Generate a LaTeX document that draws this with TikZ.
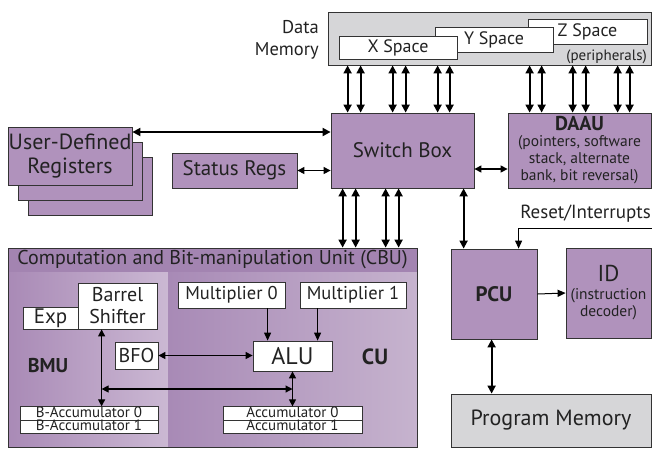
\documentclass[tikz,border=0pt]{standalone}
\usepackage{fontspec}
\setmainfont{PT Sans}
\usetikzlibrary{arrows.meta,positioning}
\definecolor{purp}{HTML}{B092BC}
\definecolor{titlebar}{HTML}{A384B1}
\definecolor{bmuL}{HTML}{A98AB6}
\definecolor{bmuR}{HTML}{CBB8D3}
\definecolor{cuL}{HTML}{A88AB6}
\definecolor{cuR}{HTML}{C6B3CE}
\definecolor{memgray}{HTML}{D6D6D8}
\definecolor{edge}{HTML}{333333}
\definecolor{txt}{HTML}{222222}
\newcommand{\fs}[2]{\fontsize{#1}{#2}\selectfont}

\begin{document}
\begin{tikzpicture}[x=1pt,y=-1pt,
    every node/.style={inner sep=0pt,text=txt},
    pbox/.style={draw=edge,line width=0.8pt,fill=purp},
    wbox/.style={draw=edge,line width=0.8pt,fill=white},
    gbox/.style={draw=edge,line width=0.8pt,fill=memgray},
    accbox/.style={wbox,minimum height=13.5,text height=9.5,text depth=2,font=\fs{15}{15}},
    bus/.style={line width=1.8pt,{Triangle[length=8pt,width=8pt]}-{Triangle[length=8pt,width=8pt]}},
    link/.style={line width=1.2pt,{Triangle[length=7pt,width=7pt]}-{Triangle[length=7pt,width=7pt]}},
    sig/.style={line width=1pt,-{Triangle[length=8pt,width=7pt]}}]
    \useasboundingbox (0,0) rectangle (652,451);

    % data memory
    \node[gbox,minimum width=323,minimum height=53] (dmem) at (489.5,38.5) {};
    \node[align=right,anchor=east,font=\fs{18.5}{22}] (dmlbl) at (319,40) {Data\\Memory};
    \node[wbox,minimum width=119,minimum height=25,font=\fs{18}{18}] (zsp) at (587.5,31.5) {Z Space};
    \node[wbox,minimum width=118,minimum height=25,font=\fs{18}{18}] (ysp) at (494,39.5) {Y Space};
    \node[wbox,minimum width=118,minimum height=23,font=\fs{18}{18}] (xsp) at (398,47.5) {X Space};
    \node[anchor=east,font=\fs{15}{15}] (peri) at (647,57) {(peripherals)};

    % top row
    \node[pbox,minimum width=143,minimum height=75,align=center,font=\fs{21}{21}] (sw) at (402.5,150.5) {Switch Box};
    \node[pbox,minimum width=143,minimum height=75,align=center,font=\fs{15.5}{17}] (daau) at (579.5,150.5)
        {{\fs{20}{20}\bfseries DAAU}\\[-1pt](pointers, software\\stack, alternate\\bank, bit reversal)};
    \node[pbox,minimum width=124,minimum height=58] (udr3) at (90,186.5) {};
    \node[pbox,minimum width=124,minimum height=58] (udr2) at (80,171.5) {};
    \node[pbox,minimum width=124,minimum height=58,align=center,font=\fs{22}{24}] (udr) at (70,156) {User-Defined\\Registers};
    \node[pbox,minimum width=125,minimum height=35,font=\fs{21}{21}] (stat) at (234.5,170.5) {Status Regs};

    \foreach \dx [count=\i] in {17,30,62,75,107,119} {
        \coordinate (s\i) at ([xshift=\dx]sw.north west);
        \draw[bus] (s\i) -- (s\i |- dmem.south);
    }
    \foreach \dx [count=\i] in {22,34,65,78,110,122} {
        \coordinate (d\i) at ([xshift=\dx]daau.north west);
        \draw[bus] (d\i) -- (d\i |- dmem.south);
    }
    \draw[bus] (udr.east |- 0,132) -- (sw.west |- 0,132);
    \draw[link] (stat.east) -- (stat.east -| sw.west);
    \draw[link] (sw.east |- 0,169) -- (daau.west |- 0,169);

    % program control
    \node[pbox,minimum width=86,minimum height=90,font=\fs{21}{21}\bfseries] (pcu) at (494,294) {PCU};
    \node[pbox,minimum width=85,minimum height=90,align=center,font=\fs{15.5}{17}] (id) at (608.5,293)
        {{\fs{23}{23}ID}\\[1pt](instruction\\decoder)};
    \node[gbox,minimum width=200,minimum height=53,font=\fs{22}{22}] (pmem) at (551,420.5) {Program Memory};
    \node[anchor=south east,font=\fs{19}{19}] (rst) at (651,222) {Reset/Interrupts};
    \coordinate (rstin) at (652,228);
    \coordinate (p1) at ([xshift=13]pcu.north west);
    \coordinate (p2) at ([xshift=68]pcu.north west);
    \coordinate (p3) at ([xshift=41]pcu.south west);
    \draw[bus] (p1) -- (p1 |- sw.south);
    \draw[sig] (rstin) -| (p2);
    \draw[sig] (pcu.east) -- (id.west);
    \draw[bus] (p3) -- (p3 |- pmem.north);

    % CBU
    \fill[titlebar] (8,248) rectangle (417,272);
    \shade[left color=bmuL,right color=bmuR] (8,272) rectangle (168,447);
    \shade[left color=cuL,right color=cuR] (168,272) rectangle (417,447);
    \node[draw=edge,line width=0.8pt,minimum width=409,minimum height=199] (cbu) at (212.5,347.5) {};
    \node[font=\fs{20}{20}] (cbutitle) at (212.5,260) {Computation and Bit-manipulation Unit (CBU)};
    \foreach \dx [count=\i] in {12,25,55,68} {
        \coordinate (c\i) at ([xshift=\dx]sw.south west);
        \draw[bus] (c\i) -- (c\i |- cbu.north);
    }

    \node[wbox,minimum width=55,minimum height=22,text height=14,text depth=4,font=\fs{21}{21}] (exp) at (50.5,318) {Exp};
    \node[wbox,minimum width=79,minimum height=46,align=center,font=\fs{20}{22}] (bsh) at (117.5,306) {Barrel\\Shifter};
    \node[wbox,minimum width=107,minimum height=26,font=\fs{18.5}{18.5}] (mul0) at (231.5,295) {Multiplier 0};
    \node[wbox,minimum width=106,minimum height=26,font=\fs{18.5}{18.5}] (mul1) at (353,295) {Multiplier 1};
    \node[wbox,minimum width=43,minimum height=27,font=\fs{20}{20}] (bfo) at (136.5,355.5) {BFO};
    \node[wbox,minimum width=79,minimum height=30,font=\fs{24}{24}] (alu) at (292.5,356) {ALU};
    \node[font=\fs{20}{20}\bfseries] (bmu) at (48,366) {BMU};
    \node[font=\fs{22}{22}\bfseries] (cu) at (375,357) {CU};
    \node[accbox,minimum width=138] (bacc0) at (89,413.5) {B-Accumulator 0};
    \node[accbox,minimum width=138] (bacc1) at (89,427) {B-Accumulator 1};
    \node[accbox,minimum width=139] (acc0) at (292.5,413.5) {Accumulator 0};
    \node[accbox,minimum width=139] (acc1) at (292.5,427) {Accumulator 1};

    \coordinate (m0) at ([xshift=90]mul0.south west);
    \coordinate (m1) at ([xshift=18]mul1.south west);
    \coordinate (bv) at ([xshift=24]bsh.south west);
    \coordinate (hy) at (0,389);
    \draw[sig] (m0) -- (m0 |- alu.north);
    \draw[sig] (m1) -- (m1 |- alu.north);
    \draw[link] (bfo.east) -- (bfo.east -| alu.west);
    \draw[link] (bv) -- (bv |- bacc0.north);
    \draw[link] (alu.south) -- (acc0.north);
    \draw[link] (bv |- hy) -- (alu.south |- hy);
\end{tikzpicture}
\end{document}
